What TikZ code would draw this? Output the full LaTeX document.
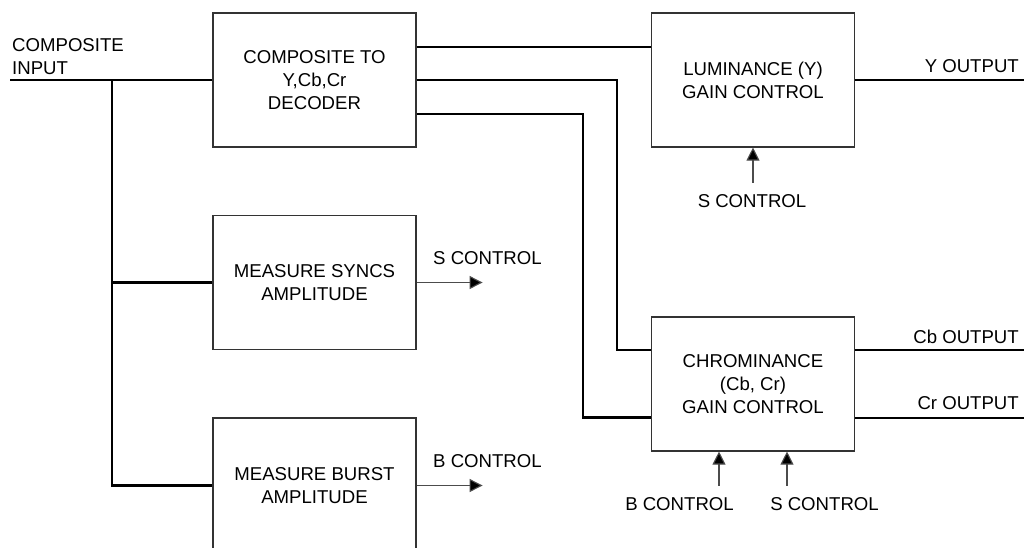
\documentclass[tikz,border=0pt]{standalone}
\usepackage{fontspec}
\setmainfont{Liberation Sans}
\usetikzlibrary{arrows.meta}
\begin{document}
\begin{tikzpicture}[x=1pt,y=-1pt,
  every node/.style={font=\fontsize{18.6}{23}\selectfont, inner sep=0pt},
  blockbox/.style={draw=black!80, line width=1.1pt, align=center, minimum width=203pt, minimum height=134pt},
  conn/.style={line width=2.2pt, line join=miter},
  outline/.style={line width=2pt},
  ctlarrow/.style={draw=black!70, line width=1.1pt, -{Triangle[length=13pt,width=13pt,fill=black]}}]
\useasboundingbox (0,0) rectangle (1026,547);
\clip (0,0) rectangle (1026,547);
% blocks
\node[blockbox] (dec) at (314.5,80) {COMPOSITE TO\\Y,Cb,Cr\\DECODER};
\node[blockbox] (lum) at (753,80) {LUMINANCE (Y)\\GAIN CONTROL};
\node[blockbox] (chr) at (753,384) {CHROMINANCE\\(Cb, Cr)\\GAIN CONTROL};
\node[blockbox] (syn) at (314.5,282.5) {MEASURE SYNCS\\AMPLITUDE};
\node[blockbox, minimum height=135pt] (bur) at (314.5,485.5) {MEASURE BURST\\AMPLITUDE};
% free ends
\coordinate (in) at (10,80);
\coordinate (tap) at (112,80);
\coordinate (yout) at (1024,80);
\coordinate (cbout) at (1024,350);
\coordinate (crout) at (1024,417.5);
% labels
\node[anchor=north west, align=left] (inlbl) at (12,38) {COMPOSITE\\INPUT};
\node[anchor=base east] (ylbl) at (1019,72) {Y OUTPUT};
\node[anchor=base east] (cblbl) at (1019,343) {Cb OUTPUT};
\node[anchor=base east] (crlbl) at (1019,409) {Cr OUTPUT};
\node[anchor=base west] (sctl) at (433,264) {S CONTROL};
\node[anchor=base west] (bctl) at (433,467) {B CONTROL};
\node[anchor=base] (lumS) at (752,207) {S CONTROL};
\node[anchor=base] (chrB) at (679.5,510) {B CONTROL};
\node[anchor=base] (chrS) at (824.5,510) {S CONTROL};
% connectors
\draw[conn] (in) -- (dec.west);
\draw[conn] (tap) |- (syn.west);
\draw[conn] (tap) |- (bur.west);
\draw[conn] ([yshift=33pt]dec.east) -- ([yshift=33pt]lum.west);
\draw[conn] (dec.east) -| ([xshift=-34pt,yshift=34pt]chr.west) -- ([yshift=34pt]chr.west);
\draw[conn] ([yshift=-34pt]dec.east) -| ([xshift=-68pt,yshift=-33.5pt]chr.west) -- ([yshift=-33.5pt]chr.west);
\draw[outline] (lum.east) -- (yout);
\draw[outline] ([yshift=34pt]chr.east) -- (cbout);
\draw[outline] ([yshift=-33.5pt]chr.east) -- (crout);
% control arrows
\draw[ctlarrow] (syn.east) -- ([xshift=66pt]syn.east);
\draw[ctlarrow] (bur.east) -- ([xshift=66pt]bur.east);
\draw[ctlarrow] ([yshift=-35pt]lum.south) -- (lum.south);
\draw[ctlarrow] ([xshift=-34pt,yshift=-34pt]chr.south) -- ([xshift=-34pt]chr.south);
\draw[ctlarrow] ([xshift=34pt,yshift=-34pt]chr.south) -- ([xshift=34pt]chr.south);
\end{tikzpicture}
\end{document}
